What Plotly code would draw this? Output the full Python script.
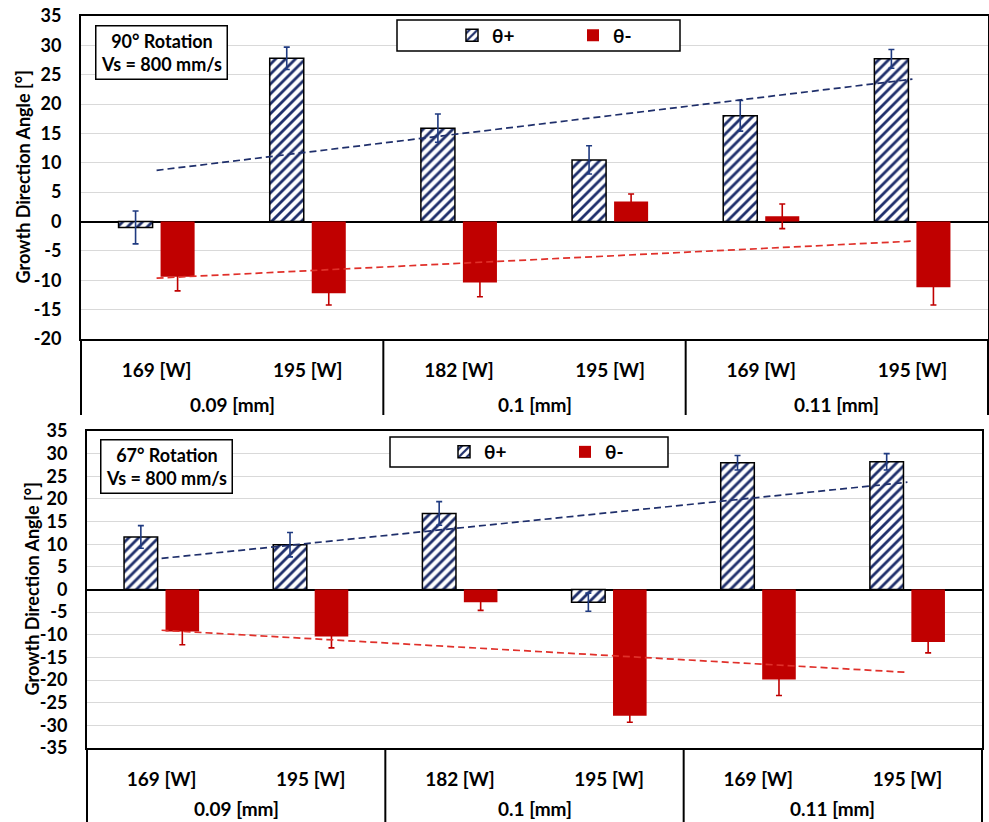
import numpy as np
import plotly.graph_objects as go

W, H = 989, 822

# categories: layer thickness (outer) and laser power (inner)
layer_thickness = ["0.09 [mm]", "0.09 [mm]", "0.1 [mm]", "0.1 [mm]", "0.11 [mm]", "0.11 [mm]"]
laser_power = ["169 [W]", "195 [W]", "182 [W]", "195 [W]", "169 [W]", "195 [W]"]

# 90° rotation, Vs = 800 mm/s
theta_pos_90 = [-1.0, 27.8, 15.9, 10.5, 18.0, 27.7]
theta_pos_90_err = [2.8, 1.9, 2.4, 2.4, 2.6, 1.6]
theta_neg_90 = [-9.4, -12.2, -10.4, 3.4, 0.9, -11.2]
theta_neg_90_err = [2.4, 2.0, 2.4, 1.3, 2.1, 3.0]

# 67° rotation, Vs = 800 mm/s
theta_pos_67 = [11.6, 9.9, 16.8, -2.8, 28.0, 28.2]
theta_pos_67_err = [2.5, 2.7, 2.6, 2.0, 1.6, 1.8]
theta_neg_67 = [-9.3, -10.4, -2.8, -27.9, -19.9, -11.6]
theta_neg_67_err = [2.9, 2.5, 1.8, 1.4, 3.5, 2.4]

y_ticks_90 = list(range(-20, 36, 5))
y_ticks_67 = list(range(-35, 36, 5))

NAVY = "#1F2F6B"
NAVY_ERR = "#1F3A80"
RED = "#C00000"
TREND_RED = "#E0302A"
FONT = "Lato"

pos = list(range(len(laser_power)))


def px(x):
    return x / W


def py(y):
    return 1 - y / H


def hatched_bar(vals, errs, xa, ya, leg, name):
    return go.Bar(
        x=pos, y=vals, name=name, xaxis=xa, yaxis=ya, legend=leg,
        marker=dict(color="white", line=dict(color="black", width=1.5),
                    pattern=dict(shape="/", fgcolor=NAVY, bgcolor="white",
                                 size=7, solidity=0.4, fillmode="replace")),
        error_y=dict(type="data", array=errs, visible=True, color=NAVY_ERR,
                     thickness=1.6, width=3),
    )


def solid_bar(vals, errs, xa, ya, leg, name):
    return go.Bar(
        x=pos, y=vals, name=name, xaxis=xa, yaxis=ya, legend=leg,
        marker=dict(color=RED, line=dict(color=RED, width=0)),
        error_y=dict(type="data", array=errs, visible=True, color=RED,
                     thickness=1.6, width=3),
    )


def trend(vals, xa, ya, color):
    # linear least-squares trendline across the six categories
    k, b = np.polyfit(pos, vals, 1)
    xs = [pos[0], pos[-1]]
    return go.Scatter(x=xs, y=[k * v + b for v in xs], mode="lines", xaxis=xa, yaxis=ya,
                      line=dict(color=color, width=1.7, dash="7px,4px"), showlegend=False,
                      hoverinfo="skip")


fig = go.Figure()
fig.add_trace(hatched_bar(theta_pos_90, theta_pos_90_err, "x", "y", "legend", "θ+"))
fig.add_trace(solid_bar(theta_neg_90, theta_neg_90_err, "x", "y", "legend", "θ-"))
fig.add_trace(trend(theta_pos_90, "x", "y", NAVY))
fig.add_trace(trend(theta_neg_90, "x", "y", TREND_RED))

fig.add_trace(hatched_bar(theta_pos_67, theta_pos_67_err, "x2", "y2", "legend2", "θ+"))
fig.add_trace(solid_bar(theta_neg_67, theta_neg_67_err, "x2", "y2", "legend2", "θ-"))
fig.add_trace(trend(theta_pos_67, "x2", "y2", NAVY))
fig.add_trace(trend(theta_neg_67, "x2", "y2", TREND_RED))

tick_font = dict(family=FONT, size=18, color="black", weight="bold")
cat_font = dict(family=FONT, size=19, color="black", weight="bold")

xcommon = dict(range=[-0.5, len(pos) - 0.5], tickvals=pos, ticktext=laser_power,
               showline=True, mirror=True, linecolor="black", linewidth=2,
               ticks="", showgrid=False, zeroline=False, tickfont=cat_font,
               ticklabelstandoff=13, automargin=False, fixedrange=True)
ycommon = dict(showline=True, mirror=True, linecolor="black", linewidth=2,
               ticks="", showgrid=True, gridcolor="#D9D9D9", gridwidth=1,
               zeroline=True, zerolinecolor="black", zerolinewidth=1.6,
               tickfont=tick_font, ticklabelstandoff=14, automargin=False,
               fixedrange=True)

fig.update_layout(
    width=W, height=H,
    margin=dict(l=0, r=0, t=0, b=0),
    paper_bgcolor="white", plot_bgcolor="white",
    barmode="group", bargap=0.444, bargroupgap=0.19,
    font=dict(family=FONT, color="black"),
    xaxis=dict(domain=[px(81), px(988)], anchor="y", **xcommon),
    yaxis=dict(domain=[py(339), py(16)], anchor="x", range=[-20, 35],
               tickvals=y_ticks_90, ticktext=[str(v) for v in y_ticks_90], **ycommon),
    xaxis2=dict(domain=[px(87), px(982)], anchor="y2", **xcommon),
    yaxis2=dict(domain=[py(748), py(431)], anchor="x2", range=[-35, 35],
                tickvals=y_ticks_67, ticktext=[str(v) for v in y_ticks_67], **ycommon),
    legend=dict(orientation="h", x=px(452), xanchor="left", y=py(35.5), yanchor="middle",
                bgcolor="rgba(0,0,0,0)", borderwidth=0, entrywidth=76,
                font=dict(family=FONT, size=19, color="black", weight="bold")),
    legend2=dict(orientation="h", x=px(444), xanchor="left", y=py(452), yanchor="middle",
                 bgcolor="rgba(0,0,0,0)", borderwidth=0, entrywidth=76,
                 font=dict(family=FONT, size=19, color="black", weight="bold")),
)

shapes = []
# legend frames
for x0, y0, x1, y1 in [(397, 20, 680, 51), (390, 437, 668, 467)]:
    shapes.append(dict(type="rect", xref="paper", yref="paper", x0=px(x0), x1=px(x1),
                       y0=py(y0), y1=py(y1), line=dict(color="black", width=1.5),
                       fillcolor="white", layer="above"))
# category-table frame below each plot area
for (xl, xr, ytop, ybot, xa) in [(81, 988, 339, 415, "x"), (87, 982, 748, 822, "x2")]:
    for xv in (xl, xr):
        shapes.append(dict(type="line", xref="paper", yref="paper", x0=px(xv), x1=px(xv),
                           y0=py(ytop), y1=py(ybot), line=dict(color="black", width=2)))
    for b in (1.5, 3.5):
        shapes.append(dict(type="line", xref=xa, yref="paper", x0=b, x1=b,
                           y0=py(ytop), y1=py(ybot), line=dict(color="black", width=2)))
fig.update_layout(shapes=shapes)

ann = []
title_font = dict(family=FONT, size=18, color="black", weight="bold")
for (xv, yv) in [(22, 177.5), (31, 589.5)]:
    ann.append(dict(text="Growth Direction Angle [°]", textangle=-90, x=px(xv), y=py(yv),
                    xref="paper", yref="paper", showarrow=False, font=title_font,
                    xanchor="center", yanchor="middle"))

groups = []
for g in layer_thickness:
    if g not in groups:
        groups.append(g)
for (xa, yv) in [("x", 404), ("x2", 808)]:
    for g in groups:
        idx = [i for i, v in enumerate(layer_thickness) if v == g]
        ann.append(dict(text=g, x=float(np.mean([pos[i] for i in idx])), y=py(yv),
                        xref=xa, yref="paper", showarrow=False, font=cat_font,
                        xanchor="center", yanchor="middle"))

box_font = dict(family=FONT, size=18, color="black", weight="bold")
for (txt, xv, yv) in [("90° Rotation<br>Vs = 800 mm/s", 161, 52),
                      ("67° Rotation<br>Vs = 800 mm/s", 166, 466.5)]:
    ann.append(dict(text=txt, x=px(xv), y=py(yv), xref="paper", yref="paper",
                    showarrow=False, font=box_font, align="center",
                    xanchor="center", yanchor="middle", bgcolor="white",
                    bordercolor="black", borderwidth=1.5, borderpad=2,
                    width=126, height=48))
fig.update_layout(annotations=ann)

fig.write_html("out.html")
